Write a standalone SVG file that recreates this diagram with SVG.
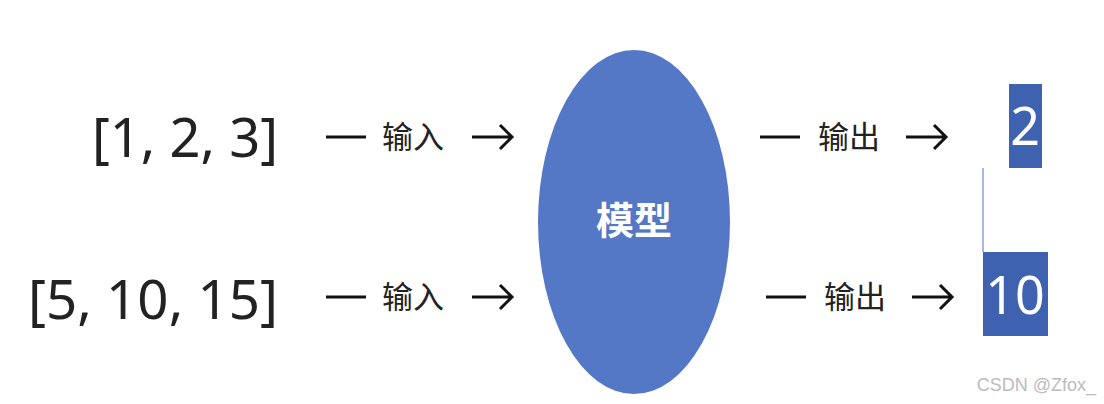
<svg xmlns="http://www.w3.org/2000/svg" width="1104" height="404" viewBox="0 0 1104 404">
<style>
.in{font-family:"Noto Sans","Liberation Sans",sans-serif;font-size:54px;fill:#222}
.lb{font-family:"Noto Sans CJK SC",sans-serif;font-size:31px;fill:#222}
.ar{stroke:#111;stroke-width:3;fill:none}
.box{fill:#3f62b0}
.bt{font-family:"Noto Sans","Liberation Sans",sans-serif;font-size:52px;fill:#fff;text-anchor:middle}
</style>
<rect width="1104" height="404" fill="#fff"/>
<g id="input1"><text class="in" x="92" y="157" textLength="186" lengthAdjust="spacingAndGlyphs">[1, 2, 3]</text></g>
<g id="input2"><text class="in" x="28" y="319" textLength="250" lengthAdjust="spacingAndGlyphs">[5, 10, 15]</text></g>
<g id="model"><ellipse cx="634" cy="222" rx="96" ry="172" fill="#5478c6"/><text x="634" y="234" font-family="Noto Sans CJK SC,sans-serif" font-size="38" font-weight="bold" fill="#fff" text-anchor="middle">模型</text></g>
<g id="out1"><rect class="box" x="1009" y="84" width="33" height="84"/><text class="bt" x="1025" y="145">2</text></g>
<g id="out2"><rect class="box" x="983" y="252" width="65" height="84"/><text class="bt" x="1015" y="314">10</text></g>
<g id="connectors">
<line x1="983" y1="168" x2="983" y2="252" stroke="#8aa2d8" stroke-width="1.5"/>
<line class="ar" x1="326" y1="137" x2="366" y2="137"/><text class="lb" x="382" y="148">输入</text>
<path class="ar" d="M472 137H512M500 125L512 137L500 149"/>
<line class="ar" x1="326" y1="297" x2="366" y2="297"/><text class="lb" x="382" y="308">输入</text>
<path class="ar" d="M472 297H512M500 285L512 297L500 309"/>
<line class="ar" x1="760" y1="137" x2="800" y2="137"/><text class="lb" x="818" y="148">输出</text>
<path class="ar" d="M906 137H946M934 125L946 137L934 149"/>
<line class="ar" x1="766" y1="297" x2="806" y2="297"/><text class="lb" x="824" y="308">输出</text>
<path class="ar" d="M912 297H952M940 285L952 297L940 309"/>
</g>
<text x="1096" y="391" font-family="Liberation Sans,sans-serif" font-size="18" fill="#bbb" text-anchor="end">CSDN @Zfox_</text>
</svg>
